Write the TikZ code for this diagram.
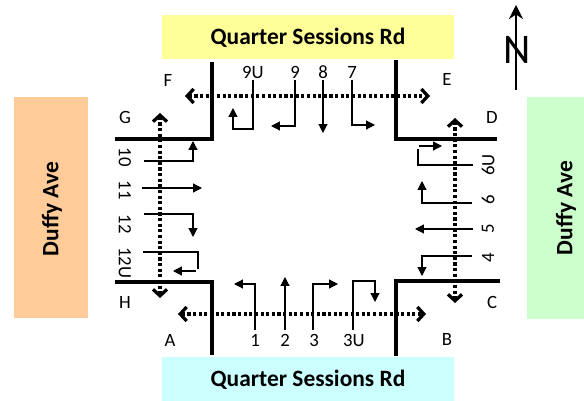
\documentclass[tikz,border=0pt]{standalone}
\usepackage{fontspec}
\setmainfont{Carlito}
\usetikzlibrary{arrows.meta}
\definecolor{roadN}{HTML}{FFFF99}
\definecolor{roadS}{HTML}{CCFFFF}
\definecolor{roadW}{HTML}{FFCC99}
\definecolor{roadE}{HTML}{CCFFCC}
\tikzset{
	kerb/.style={line width=3.4pt,line cap=butt,line join=miter},
	walk/.style={line width=2.6pt,dash pattern=on 2.6pt off 2.2pt,line cap=butt,
		{Straight Barb[length=5.5pt,width=12pt,line width=2.8pt]}-{Straight Barb[length=5.5pt,width=12pt,line width=2.8pt]}},
	turn/.style={line width=1pt,-{Triangle[length=7.5pt,width=7.5pt]}},
	stem/.style={line width=1pt},
	roadname/.style={font=\bfseries\fontsize{20}{20}\selectfont,inner sep=0pt},
	legno/.style={font=\fontsize{16}{16}\selectfont,inner sep=0pt},
}
\begin{document}
\begin{tikzpicture}[x=0.03cm,y=-0.03cm,line join=miter]
	\useasboundingbox (0,0) rectangle (584,401);
	% road boxes
	\fill[roadN] (162,15) rectangle (454,59);
	\fill[roadS] (162,357) rectangle (454,401);
	\fill[roadW] (14,97) rectangle (88,318);
	\fill[roadE] (527,97) rectangle (584,319);
	\node[roadname] (north) at (308,38) {Quarter Sessions Rd};
	\node[roadname] (south) at (308,380) {Quarter Sessions Rd};
	\node[roadname,rotate=90] (west) at (52,209) {Duffy Ave};
	\node[roadname,rotate=90] (east) at (566,208) {Duffy Ave};
	% kerbs
	\draw[kerb] (212,62) -- (212,139) -- (115,139);
	\draw[kerb] (396,60) -- (396,139) -- (497,139);
	\draw[kerb] (115,282) -- (212,282) -- (212,355);
	\draw[kerb] (500,281) -- (396,281) -- (396,356);
	% crossings
	\coordinate (A) at (178,314);
	\coordinate (B) at (426,314);
	\coordinate (C) at (455,303);
	\coordinate (D) at (455,118);
	\coordinate (E) at (430,96);
	\coordinate (F) at (185,96);
	\coordinate (G) at (160,113);
	\coordinate (H) at (160,298);
	\draw[walk] (A) -- (B);
	\draw[walk] (D) -- (C);
	\draw[walk] (F) -- (E);
	\draw[walk] (G) -- (H);
	% corner letters
	\foreach \ltr/\x/\y in {A/170/340,B/447/339,C/492/302,D/492/117,E/447/79,F/168/80,G/125/117,H/125/302}
		\node[legno] (corner\ltr) at (\x,\y) {\ltr};
	% movement numbers
	\foreach \no/\x in {1/255,2/285,3/314,3U/354}
		\node[legno] (leg\no) at (\x,340) {\no};
	\foreach \no/\y in {4/258,5/229,6/200,6U/165}
		\node[legno,rotate=90] (leg\no) at (488,\y) {\no};
	\foreach \no/\x in {7/352,8/323,9/295,9U/253}
		\node[legno] (leg\no) at (\x,72) {\no};
	\foreach \no/\y in {10/157,11/190,12/224,12U/263}
		\node[legno,rotate=-90] (leg\no) at (125,\y) {\no};
	% movements
	\draw[turn] (255,330) |- (234,284);
	\draw[turn] (285,330) -- (285,277);
	\draw[turn] (313,330) |- (338,284);
	\draw[turn] (353,330) -- (353,281) -- (375,281) -- (375,302);
	\draw[turn] (472,256) -| (422,276);
	\draw[turn] (473,229) -- (415,229);
	\draw[turn] (472,203) -| (422,181);
	\draw[stem] (473,165) -| (418,149);
	\draw[turn] (419,146) -- (442,146);
	\draw[turn] (352,80) |- (375,125);
	\draw[turn] (323,80) -- (323,133);
	\draw[turn] (295,80) |- (271,126);
	\draw[turn] (253,80) -- (253,129) -- (233,129) -- (233,108);
	\draw[turn] (144,161) -| (193,141);
	\draw[turn] (142,188) -- (202,188);
	\draw[turn] (144,214) -| (193,237);
	\draw[stem] (143,252) -| (198,269);
	\draw[turn] (196,271) -- (173,271);
	% north arrow
	\node[inner sep=0pt,font=\fontsize{36}{36}\selectfont] (nsign) at (517,50) {N};
	\draw[line width=1.2pt,-{Stealth[length=12pt,width=12pt]}] (516,90) -- (516,5);
\end{tikzpicture}
\end{document}
